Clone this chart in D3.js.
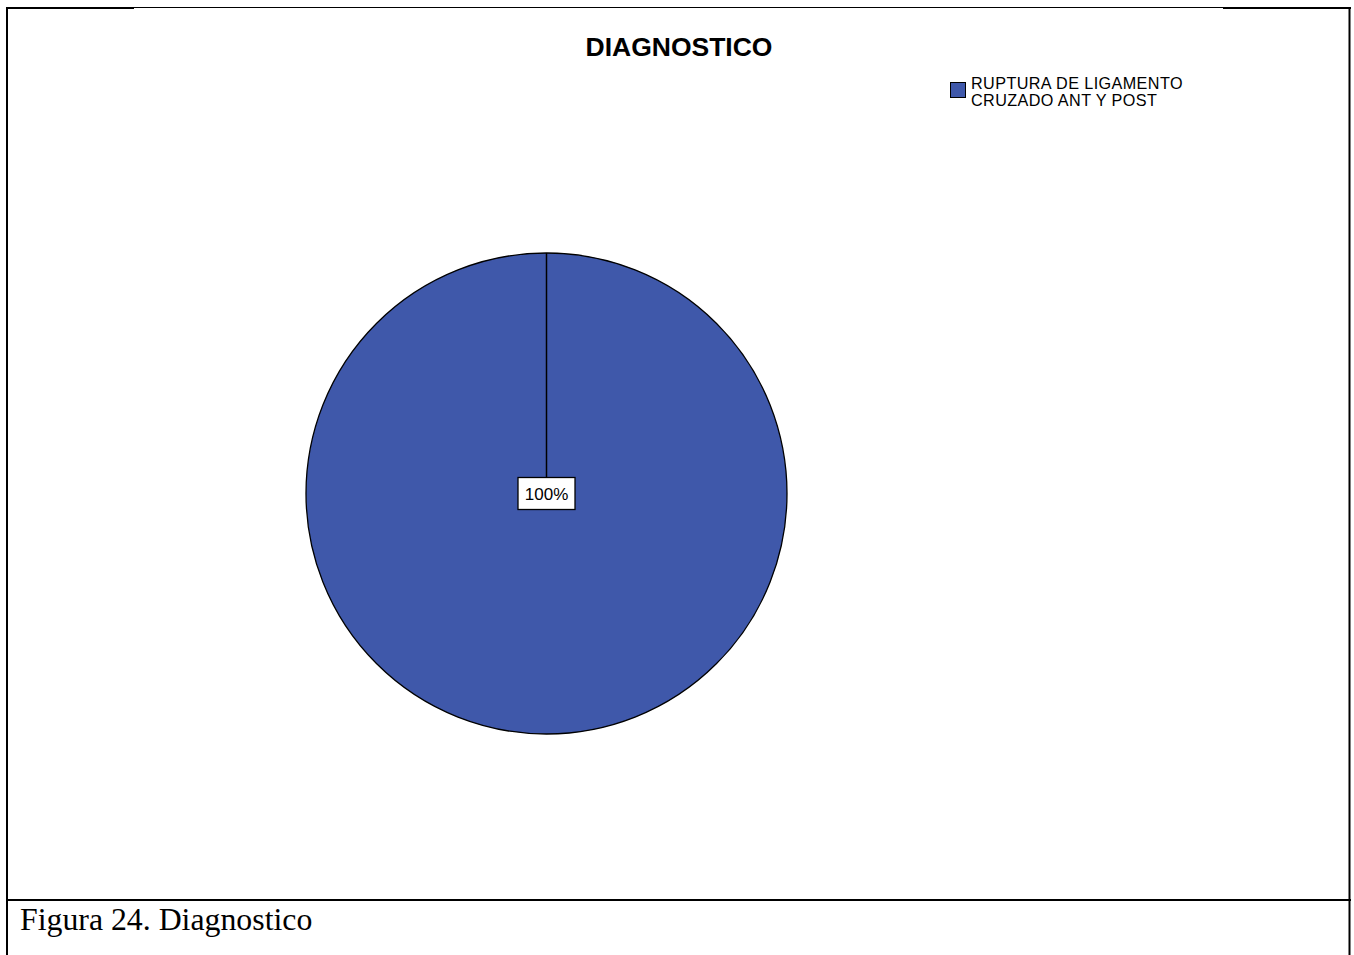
<!DOCTYPE html>
<html>
<head>
<meta charset="utf-8">
<script src="https://cdn.jsdelivr.net/npm/d3@7"></script>
<style>
  html, body { margin: 0; padding: 0; background: #fff; }
  svg { display: block; }
</style>
</head>
<body>
<svg id="chart" width="1354" height="955"></svg>
<script>
// Chart data
const categories = ["RUPTURA DE LIGAMENTO CRUZADO ANT Y POST"];
const legendLines = ["RUPTURA DE LIGAMENTO", "CRUZADO ANT Y POST"];
const percentages = [100];
const colors = ["#3f58aa"];
const chartTitle = "DIAGNOSTICO";
const caption = "Figura 24. Diagnostico";

const svg = d3.select("#chart");

// Table frame around the figure
const frame = svg.append("g").attr("stroke", "#000").attr("fill", "none");
frame.append("line").attr("x1", 6).attr("x2", 134).attr("y1", 8).attr("y2", 8).attr("stroke-width", 2);
frame.append("line").attr("x1", 134).attr("x2", 1223).attr("y1", 7.5).attr("y2", 7.5).attr("stroke-width", 1);
frame.append("line").attr("x1", 1223).attr("x2", 1351).attr("y1", 8).attr("y2", 8).attr("stroke-width", 2);
frame.append("line").attr("x1", 7).attr("x2", 7).attr("y1", 7).attr("y2", 955).attr("stroke-width", 2);
frame.append("line").attr("x1", 1349.5).attr("x2", 1349.5).attr("y1", 7).attr("y2", 955).attr("stroke-width", 2);
frame.append("line").attr("x1", 6).attr("x2", 1351).attr("y1", 900).attr("y2", 900).attr("stroke-width", 2);

// Title
svg.append("text")
  .attr("x", 679).attr("y", 56)
  .attr("text-anchor", "middle")
  .attr("font-family", "'Liberation Sans', Arial, sans-serif")
  .attr("font-weight", "bold")
  .attr("font-size", 26.5)
  .attr("fill", "#000")
  .text(chartTitle);

// Pie
const cx = 546.5, cy = 493.5, radius = 240.5;
const pie = d3.pie().sort(null).value(d => d);
const arc = d3.arc().innerRadius(0).outerRadius(radius);
const arcs = pie(percentages);

const pieG = svg.append("g").attr("transform", `translate(${cx},${cy})`);
pieG.selectAll("path.slice")
  .data(arcs)
  .join("path")
  .attr("class", "slice")
  .attr("d", arc)
  .attr("fill", (d, i) => colors[i])
  .attr("stroke", "#000")
  .attr("stroke-width", 1.3);

// Slice boundary from centre to the start angle
pieG.selectAll("line.edge")
  .data(arcs)
  .join("line")
  .attr("class", "edge")
  .attr("x1", 0).attr("y1", 0)
  .attr("x2", d => radius * Math.sin(d.startAngle))
  .attr("y2", d => -radius * Math.cos(d.startAngle))
  .attr("stroke", "#000")
  .attr("stroke-width", 1.5);

// Percentage labels in boxes
const fmt = v => `${v}%`;
const labelG = pieG.selectAll("g.label")
  .data(arcs)
  .join("g")
  .attr("class", "label")
  .attr("transform", d => {
    const full = (d.endAngle - d.startAngle) >= 2 * Math.PI - 1e-6;
    const p = full ? [0, 0] : d3.arc().innerRadius(radius * 0.5).outerRadius(radius * 0.5).centroid(d);
    return `translate(${p[0]},${p[1]})`;
  });
labelG.append("rect")
  .attr("x", -28.5).attr("y", -16)
  .attr("width", 57).attr("height", 32)
  .attr("fill", "#fff")
  .attr("stroke", "#000")
  .attr("stroke-width", 1.3);
labelG.append("text")
  .attr("x", 0).attr("y", 6.5)
  .attr("text-anchor", "middle")
  .attr("font-family", "'Liberation Sans', Arial, sans-serif")
  .attr("font-size", 17)
  .attr("fill", "#000")
  .text(d => fmt(d.data));

// Legend
const legend = svg.append("g").attr("transform", "translate(950,82)");
legend.selectAll("rect")
  .data(categories)
  .join("rect")
  .attr("x", 0.5).attr("y", 0.5)
  .attr("width", 15).attr("height", 15)
  .attr("fill", (d, i) => colors[i])
  .attr("stroke", "#000")
  .attr("stroke-width", 1);
legend.append("text")
  .attr("font-family", "'Liberation Sans', Arial, sans-serif")
  .attr("font-size", 16.2)
  .attr("letter-spacing", 0.4)
  .attr("fill", "#000")
  .selectAll("tspan")
  .data(legendLines)
  .join("tspan")
  .attr("x", 21)
  .attr("y", (d, i) => 6.5 + i * 17)
  .text(d => d);

// Caption
svg.append("text")
  .attr("x", 20).attr("y", 930)
  .attr("font-family", "'Liberation Serif', 'Times New Roman', serif")
  .attr("font-size", 31.8)
  .attr("fill", "#000")
  .text(caption);
</script>
</body>
</html>
